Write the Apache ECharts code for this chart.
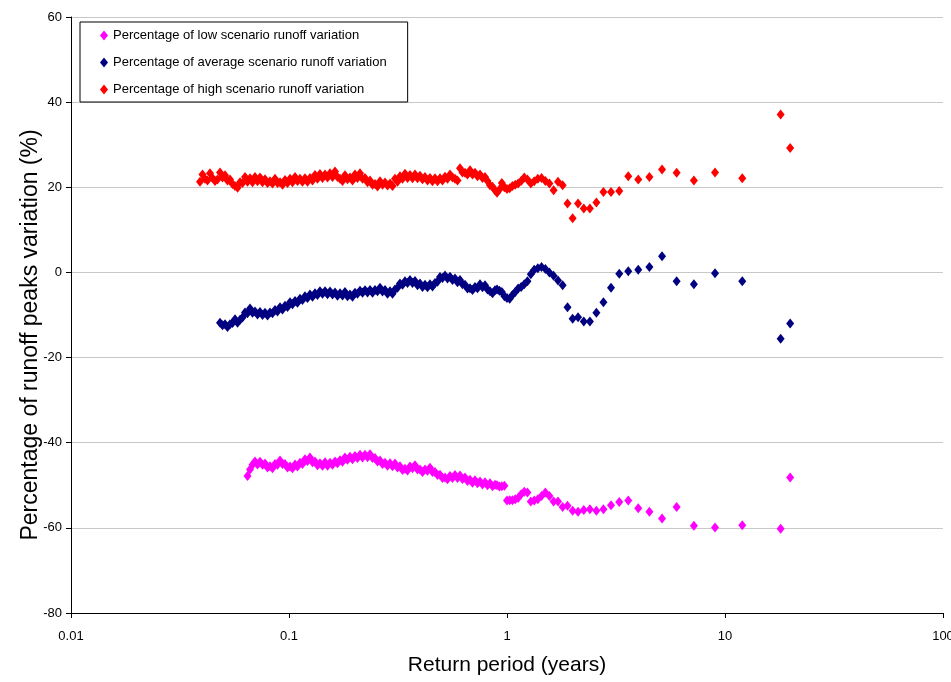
<!DOCTYPE html>
<html>
<head>
<meta charset="utf-8">
<script src="https://cdn.jsdelivr.net/npm/echarts@6/dist/echarts.min.js"></script>
<style>
html, body { margin: 0; padding: 0; background: #fff; }
#chart { width: 951px; height: 682px; }
</style>
</head>
<body>
<div id="chart"></div>
<script>
// Return periods (years) of the frequent events, shared by the three scenarios
const densePeriods = [
  0.03905, 0.0401, 0.04117, 0.04227, 0.04341, 0.04457, 0.04577, 0.047, 0.04826, 0.04955,
  0.05087, 0.05223, 0.05363, 0.05507, 0.05654, 0.05806, 0.05961, 0.0612, 0.06284, 0.06452,
  0.06625, 0.06802, 0.06983, 0.0717, 0.07362, 0.0756, 0.07762, 0.07969, 0.0818, 0.08401,
  0.08627, 0.08857, 0.09094, 0.09338, 0.09588, 0.09845, 0.1011, 0.1038, 0.1066, 0.1094,
  0.1123, 0.1153, 0.1184, 0.1216, 0.1248, 0.1282, 0.1316, 0.1351, 0.1387, 0.1425,
  0.1463, 0.1502, 0.1542, 0.1583, 0.1626, 0.1669, 0.1714, 0.176, 0.1806, 0.1855,
  0.1905, 0.1956, 0.2008, 0.2062, 0.2117, 0.2174, 0.2232, 0.2292, 0.2353, 0.2416,
  0.248, 0.2547, 0.2615, 0.2685, 0.2757, 0.2831, 0.2906, 0.2984, 0.3063, 0.3146,
  0.323, 0.3317, 0.3405, 0.3497, 0.3589, 0.3686, 0.3784, 0.3886, 0.399, 0.4097,
  0.4206, 0.4319, 0.4434, 0.4553, 0.4674, 0.48, 0.4928, 0.506, 0.5195, 0.5335,
  0.5477, 0.5624, 0.5774, 0.5929, 0.6087, 0.625, 0.6417, 0.6589, 0.6766, 0.6947,
  0.7132, 0.7323, 0.7519, 0.772, 0.7927, 0.8139, 0.8357, 0.858, 0.881
];

// Return periods (years) of the rarer events
const tailPeriods = [
  0.9, 0.923, 0.947, 0.973, 1.0, 1.029, 1.059, 1.091, 1.125, 1.161,
  1.2, 1.241, 1.286, 1.333, 1.385, 1.44, 1.5, 1.565, 1.636, 1.714,
  1.8, 1.895, 2, 2.118, 2.25, 2.4, 2.571, 2.769, 3, 3.273,
  3.6, 4, 4.5, 5.143, 6, 7.2, 9, 12, 18, 19.9
];

// Low scenario: runoff peaks variation (%)
const lowDense = [
  null, null, null, null, null, null, null, null, null, null,
  null, null, null, null, null, null, null, null, null, -47.8,
  -46.3, -45.2, -44.4, -45.1, -44.5, -45.2, -44.9, -45.8, -45.5, -46.0,
  -45.0, -45.2, -44.2, -45.0, -45.0, -45.8, -45.6, -46.0, -45.1, -45.6,
  -44.7, -45.0, -43.9, -44.3, -43.5, -44.6, -44.4, -45.3, -44.8, -45.4,
  -44.6, -45.4, -44.7, -45.2, -44.4, -44.8, -44.1, -44.5, -43.5, -44.0,
  -43.3, -43.9, -43.1, -43.6, -42.8, -43.5, -42.8, -43.4, -42.7, -43.6,
  -43.6, -44.4, -44.2, -45.0, -44.7, -45.4, -44.8, -45.5, -44.9, -45.8,
  -45.5, -46.4, -46.1, -46.5, -45.6, -46.0, -45.3, -46.3, -46.3, -46.9,
  -46.3, -46.6, -45.9, -46.9, -46.9, -47.6, -47.5, -48.3, -48.2, -48.6,
  -47.8, -48.3, -47.6, -48.3, -47.7, -48.5, -48.2, -49.0, -48.7, -49.4,
  -48.8, -49.5, -49.1, -49.8, -49.3, -50.0, -49.5, -50.2, -49.9
];
const lowTail = [
  -50.0, -50.3, -50.2, -50.1, -53.6, -53.5, -53.5, -53.3, -53.0, -52.1,
  -51.5, -51.7, -53.8, -53.6, -53.3, -52.5, -51.7, -52.5, -53.8, -53.8,
  -55.1, -54.8, -56.0, -56.2, -55.8, -55.6, -56.0, -55.6, -54.7, -53.9,
  -53.6, -55.4, -56.2, -57.8, -55.1, -59.5, -59.9, -59.4, -60.2, -48.2
];

// Average scenario: runoff peaks variation (%)
const averageDense = [
  null, null, null, null, null, null, null, null, -11.8, -12.4,
  -12.2, -12.8, -12.2, -11.9, -11.0, -11.8, -11.1, -10.6, -9.4, -9.6,
  -8.5, -9.5, -9.2, -9.9, -9.3, -10.0, -9.5, -10.1, -9.4, -9.6,
  -8.8, -9.2, -8.2, -8.7, -7.8, -8.1, -7.0, -7.5, -6.7, -7.1,
  -6.2, -6.5, -5.6, -6.0, -5.2, -5.7, -4.9, -5.3, -4.4, -5.0,
  -4.4, -5.1, -4.5, -5.2, -4.7, -5.5, -4.9, -5.4, -4.6, -5.6,
  -5.2, -5.7, -4.8, -5.0, -4.3, -4.8, -4.2, -4.7, -4.1, -4.8,
  -4.1, -4.4, -3.6, -4.5, -4.1, -5.0, -4.4, -5.0, -4.0, -3.6,
  -2.6, -2.9, -2.1, -2.5, -1.8, -2.5, -2.0, -3.0, -2.6, -3.4,
  -2.9, -3.5, -2.8, -3.3, -2.5, -2.2, -1.1, -1.3, -0.7, -1.4,
  -1.0, -1.8, -1.4, -2.3, -1.8, -2.8, -2.9, -3.8, -3.7, -4.1,
  -3.4, -3.7, -2.8, -3.5, -3.0, -4.0, -4.4, -4.9, -4.2
];
const averageTail = [
  -4.0, -4.3, -4.6, -5.6, -6.0, -6.2, -5.3, -4.6, -3.8, -3.4,
  -2.8, -2.1, -0.4, 0.6, 1.0, 1.3, 0.8, 0.0, -0.8, -1.9,
  -3.0, -8.2, -10.9, -10.5, -11.5, -11.5, -9.5, -7.0, -3.6, -0.3,
  0.3, 0.6, 1.3, 3.8, -2.1, -2.8, -0.2, -2.1, -15.6, -12.0
];

// High scenario: runoff peaks variation (%)
const highDense = [
  21.3, 23.0, 22.0, 21.6, 23.3, 22.2, 21.5, 21.8, 23.5, 22.3,
  22.8, 21.6, 21.8, 20.8, 20.3, 19.9, 21.2, 21.0, 22.4, 21.3,
  22.1, 21.2, 22.4, 21.4, 22.3, 21.2, 21.9, 21.0, 21.4, 20.9,
  22.0, 21.0, 21.2, 20.6, 21.7, 21.0, 22.0, 21.2, 22.4, 21.5,
  22.0, 21.3, 22.1, 21.3, 22.2, 21.6, 22.9, 22.0, 23.1, 22.2,
  23.0, 22.3, 23.3, 22.4, 23.7, 22.4, 22.0, 21.5, 22.8, 21.9,
  22.3, 21.6, 23.0, 22.2, 23.3, 22.0, 22.2, 21.2, 21.6, 20.6,
  20.8, 20.2, 21.4, 20.6, 21.1, 20.4, 20.9, 20.3, 22.0, 21.3,
  22.6, 22.0, 23.2, 22.2, 22.9, 22.1, 23.0, 22.1, 22.7, 21.9,
  22.4, 21.6, 22.2, 21.4, 22.1, 21.4, 22.1, 21.6, 22.5, 22.0,
  23.0, 22.3, 22.0, 21.6, 24.5, 23.5, 23.4, 23.0, 24.0, 23.0,
  23.4, 22.6, 23.0, 22.2, 22.4, 21.5, 20.5, 20.1, 19.3
];
const highTail = [
  18.7, 19.5, 21.0, 20.0, 19.6, 19.8, 20.3, 20.6, 20.9, 21.5,
  22.3, 21.8, 20.9, 21.4, 22.0, 22.2, 21.5, 20.9, 19.3, 21.3,
  20.5, 16.2, 12.7, 16.2, 15.0, 15.0, 16.4, 18.9, 18.9, 19.1,
  22.6, 21.8, 22.4, 24.2, 23.4, 21.6, 23.5, 22.1, 37.1, 29.2
];

const seriesNames = [
  'Percentage of low scenario runoff variation',
  'Percentage of average scenario runoff variation',
  'Percentage of high scenario runoff variation'
];
const seriesColors = ['#ff00ff', '#000080', '#ff0000'];

const FONT = '"Liberation Sans", Arial, sans-serif';

// Join the periods with the values of one scenario, skipping missing events
function points(dense, tail) {
  const out = [];
  densePeriods.forEach((t, i) => { if (dense[i] != null) out.push([t, dense[i]]); });
  tailPeriods.forEach((t, i) => { if (tail[i] != null) out.push([t, tail[i]]); });
  return out;
}

const chart = echarts.init(document.getElementById('chart'), null, { renderer: 'canvas' });

const scatterSeries = [
  [lowDense, lowTail],
  [averageDense, averageTail],
  [highDense, highTail]
].map(([dense, tail], i) => ({
  name: seriesNames[i],
  type: 'scatter',
  symbol: 'diamond',
  symbolSize: [8, 10],
  itemStyle: { color: seriesColors[i], opacity: 1 },
  emphasis: { disabled: true },
  data: points(dense, tail)
}));

chart.setOption({
  animation: false,
  backgroundColor: '#fff',
  grid: { left: 71, right: 8, top: 17, bottom: 69, containLabel: false, outerBoundsMode: 'none' },
  legend: {
    orient: 'vertical',
    left: 80,
    top: 22,
    padding: [7, 21, 6, 20],
    itemWidth: 8,
    itemHeight: 10,
    itemGap: 14,
    symbolKeepAspect: false,
    borderColor: '#000',
    borderWidth: 1,
    borderRadius: 0,
    backgroundColor: '#fff',
    textStyle: { fontFamily: FONT, fontSize: 13, color: '#000' },
    data: seriesNames.map(n => ({ name: n, icon: 'diamond' }))
  },
  xAxis: {
    type: 'log',
    logBase: 10,
    min: 0.01,
    max: 100,
    name: 'Return period (years)',
    nameLocation: 'middle',
    nameGap: 42,
    nameMoveOverlap: false,
    nameTextStyle: { fontFamily: FONT, fontSize: 21, color: '#000' },
    axisLine: { show: true, onZero: false, lineStyle: { color: '#000', width: 1 } },
    axisTick: { show: true, inside: false, length: 5, lineStyle: { color: '#000' } },
    minorTick: { show: false },
    axisLabel: {
      fontFamily: FONT, fontSize: 13, color: '#000', margin: 17,
      formatter: v => String(+(+v).toPrecision(6))
    },
    splitLine: { show: false }
  },
  yAxis: {
    type: 'value',
    min: -80,
    max: 60,
    interval: 20,
    name: 'Percentage of runoff peaks variation (%)',
    nameLocation: 'middle',
    nameGap: 29,
    nameMoveOverlap: false,
    nameTextStyle: { fontFamily: FONT, fontSize: 23, color: '#000', padding: [0, 40, 0, 0] },
    axisLine: { show: true, onZero: false, lineStyle: { color: '#000', width: 1 } },
    axisTick: { show: true, inside: false, length: 5, lineStyle: { color: '#000' } },
    axisLabel: { fontFamily: FONT, fontSize: 13, color: '#000', margin: 9 },
    splitLine: { show: true, lineStyle: { color: '#c8c8c8', width: 1 } }
  },
  series: scatterSeries
});
</script>
</body>
</html>
